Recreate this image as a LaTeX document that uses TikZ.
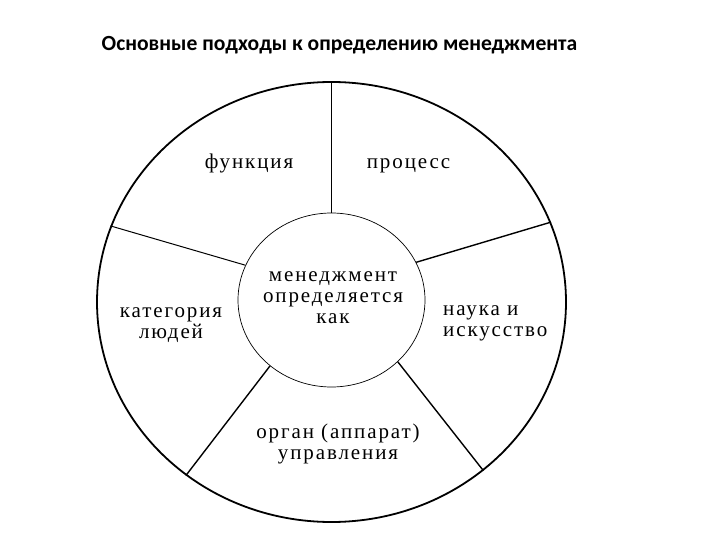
\documentclass[tikz,border=0pt]{standalone}
\usepackage{fontspec}
\setmainfont{Liberation Serif}[LetterSpace=9]
\newfontfamily\titlefont{Carlito}
\usepackage{tikz}
\usetikzlibrary{shapes.geometric}

\begin{document}
\begin{tikzpicture}[x=1pt,y=-1pt,
							ringnode/.style={ellipse, draw=black, inner sep=0pt},
							labelnode/.style={align=center, inner sep=0pt, font=\fontsize{21}{21}\selectfont},
							spoke/.style={draw=black, line width=1.4pt},
							]
							\useasboundingbox (0,0) rectangle (720,540);
							%Nodes
							\node[anchor=base]     (title) 	at	(339.5,51) 	{\titlefont\bfseries\fontsize{21.6}{24}\selectfont Основные подходы к определению менеджмента};
							\node[ringnode, line width=1.8pt, minimum width=469pt, minimum height=440pt]      (outer) 	at 	(331.5,302)   {};
							\node[ringnode, line width=0.7pt, minimum width=187pt, minimum height=174pt]      (inner) 	at 	(331.5,300)   {};
							\node[labelnode]      (centre) 	at 	(333,298)       {менеджмент\\определяется\\как};
							\node[labelnode, anchor=base]      (func) 	at 	(249,169)       {функция};
							\node[labelnode, anchor=base]      (proc) 	at 	(408.5,169)       {процесс};
							\node[labelnode]      (people) 	at 	(171,325)       {категория\\людей};
							\node[labelnode, align=left, anchor=west]      (science) 	at 	(443,323)       {наука и\\искусство};
							\node[labelnode]      (organ) 	at 	(338,444)       {орган (аппарат)\\управления};

							\draw[spoke] (inner.90) --  (outer.90);
							\draw[spoke, line width=1pt] (inner.158) --  (outer.161);
							\draw[spoke] (inner.24) --  (outer.20);
							\draw[spoke] (inner.227) --  (outer.230);
							\draw[spoke] (inner.317) --  (outer.312);
						\end{tikzpicture}
\end{document}
